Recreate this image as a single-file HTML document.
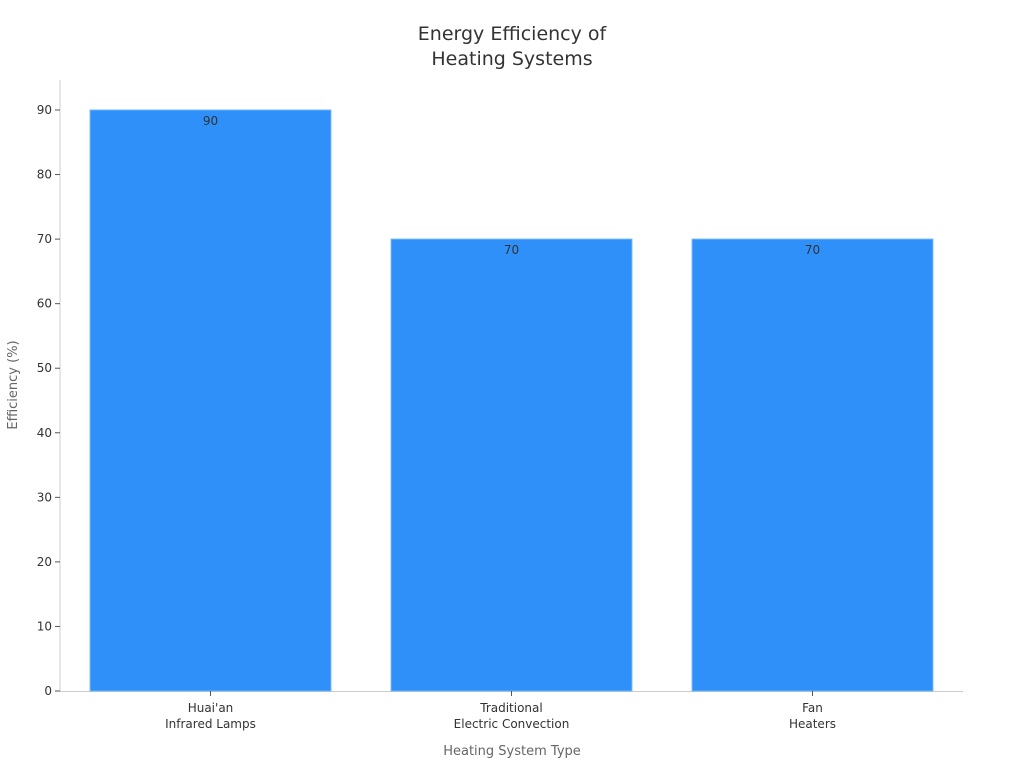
<!DOCTYPE html>
<html><head><meta charset="utf-8"><style>
body{margin:0;background:#fff;font-family:"DejaVu Sans","Liberation Sans",sans-serif;}
</style></head><body>
<svg id="chart" width="1024" height="768" xmlns="http://www.w3.org/2000/svg">
<text x="512" y="40" text-anchor="middle" font-size="19" fill="#333"><tspan x="512">Energy Efficiency of</tspan><tspan x="512" dy="25">Heating Systems</tspan></text>
<text transform="translate(17,385) rotate(-90)" text-anchor="middle" font-size="13" fill="#666">Efficiency (%)</text>
<text x="512" y="755" text-anchor="middle" font-size="13" fill="#666">Heating System Type</text>
<g id="g"></g>
</svg>
<script>
const categories=[["Huai'an","Infrared Lamps"],["Traditional","Electric Convection"],["Fan","Heaters"]];
const values=[90,70,70];
const yTicks=[0,10,20,30,40,50,60,70,80,90];
const NS="http://www.w3.org/2000/svg";
const g=document.getElementById('g');
const x0=60,x1=963,yBase=691,yTop=110,yMax=90;
const y=v=>yBase-(yBase-yTop)*v/yMax;
const band=(x1-x0)/categories.length;
const bx=i=>x0+band*i;
function el(t,a,p){const e=document.createElementNS(NS,t);for(const k in a)e.setAttribute(k,a[k]);(p||g).appendChild(e);return e;}
const ya=el('line',{x1:x0,y1:80,x2:x0,y2:yBase,stroke:'#ccc'});


const xa=el('line',{x1:x0,y1:yBase+0.5,x2:x1,y2:yBase+0.5,stroke:'#ccc'});


yTicks.forEach(t=>{
  const tk=el('line',{x1:x0-5,y1:y(t),x2:x0,y2:y(t),stroke:'#555'});
  
  
  const tx=el('text',{x:x0-8,y:y(t)+4,'text-anchor':'end','font-size':12,fill:'#333'});
  tx.textContent=t;
  
  
});
values.forEach((v,i)=>{
  const w=band*0.8,x=bx(i)+band*0.1;
  const r=el('rect',{x:x,y:y(v),width:w,height:yBase-y(v),fill:'#2e90f8',stroke:'#6fb3fb','stroke-width':1});
  
  
  const lt=el('text',{x:x+w/2,y:y(v)+15,'text-anchor':'middle','font-size':12,fill:'#333'});
  lt.textContent=v;
  
  
  const cx=bx(i)+band/2;
  const ct=el('text',{x:cx,y:712,'text-anchor':'middle','font-size':12,fill:'#333'});
  
  
  categories[i].forEach((s,j)=>{const ts=el('tspan',{x:cx,dy:j?16:0},ct);ts.textContent=s;});
  const tk=el('line',{x1:cx,y1:yBase,x2:cx,y2:yBase+5,stroke:'#555'});
  
  
});
</script>
</body></html>
